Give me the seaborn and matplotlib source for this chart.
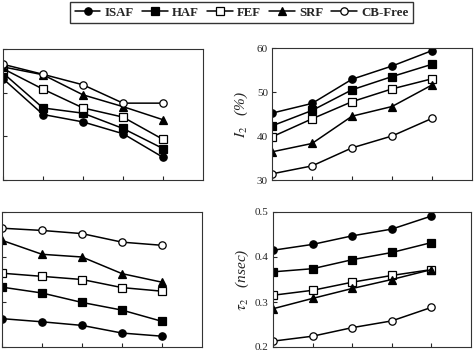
"""
Fluorescence decay components per algorithm (recreated panel crop).
"""
import matplotlib
matplotlib.use("Agg")
import matplotlib.pyplot as plt
import seaborn as sns

methods = ["ISAF", "HAF", "FEF", "SRF", "CB-Free"]
steps = [0, 1, 2, 3, 4]

# rows follow `methods`
i1_pct = [
    [53.2, 45.0, 43.3, 40.6, 35.2],
    [54.5, 46.5, 45.3, 41.8, 37.2],
    [55.5, 50.8, 46.5, 44.4, 39.3],
    [55.9, 54.1, 49.5, 46.8, 43.8],
    [56.5, 54.2, 51.8, 47.6, 47.6],
]
i2_pct = [
    [45.2, 47.4, 52.9, 55.9, 59.4],
    [42.3, 45.8, 50.5, 53.5, 56.3],
    [39.8, 43.9, 47.8, 50.7, 53.0],
    [36.4, 38.3, 44.5, 46.7, 51.6],
    [31.4, 33.2, 37.3, 40.0, 44.0],
]
tau1_ns = [
    [0.263, 0.256, 0.248, 0.231, 0.224],
    [0.333, 0.320, 0.299, 0.282, 0.257],
    [0.364, 0.357, 0.350, 0.332, 0.324],
    [0.437, 0.406, 0.400, 0.363, 0.344],
    [0.464, 0.459, 0.452, 0.433, 0.426],
]
tau2_ns = [
    [0.415, 0.428, 0.447, 0.462, 0.491],
    [0.367, 0.374, 0.394, 0.410, 0.432],
    [0.315, 0.326, 0.344, 0.359, 0.372],
    [0.285, 0.308, 0.330, 0.350, 0.372],
    [0.213, 0.224, 0.243, 0.258, 0.288],
]

pct_ticks = [30, 40, 50, 60]
ns_ticks = [0.2, 0.3, 0.4, 0.5]

sns.set_style("ticks")
plt.rcParams["font.family"] = ["Liberation Serif", "DejaVu Serif"]
plt.rcParams["mathtext.fontset"] = "stix"

markers = {
    "ISAF": ("o", "black"),
    "HAF": ("s", "black"),
    "FEF": ("s", "white"),
    "SRF": ("^", "black"),
    "CB-Free": ("o", "white"),
}

fig = plt.figure(figsize=(4.74, 3.51), dpi=100)
W, H = 474, 351


def px_axes(x0, y0, x1, y1):
    return fig.add_axes([x0 / W, 1 - y1 / H, (x1 - x0) / W, (y1 - y0) / H])


ax_tl = px_axes(3, 49, 203, 180)
ax_tr = px_axes(272, 48, 472, 180)
ax_bl = px_axes(2, 212, 202, 347)
ax_br = px_axes(273, 212, 471, 347)

# left panels: their tick labels and titles fall outside the cropped picture
panels = [
    (ax_tl, i1_pct, pct_ticks, (30, 60), None, None),
    (ax_tr, i2_pct, pct_ticks, (30, 60), "%d", r"$I_2$" + "   (%)"),
    (ax_bl, tau1_ns, ns_ticks, (0.2, 0.5), None, None),
    (ax_br, tau2_ns, ns_ticks, (0.2, 0.5), "%.1f", r"$\tau_2$" + "   (nsec)"),
]

for ax, rows, yt, ylim, fmt, ylabel in panels:
    for name, vals in zip(methods, rows):
        mk, face = markers[name]
        sns.lineplot(x=steps, y=vals, ax=ax, color="black", linewidth=1.1,
                     marker=mk, markersize=5.3, markerfacecolor=face,
                     markeredgecolor="black", markeredgewidth=0.9,
                     label=name, legend=False)
    ax.set_xlim(0, 5)
    ax.set_ylim(*ylim)
    ax.set_xticks([0, 1, 2, 3, 4])
    ax.set_xticklabels([])
    ax.set_yticks(yt)
    if fmt:
        ax.set_yticklabels([fmt % t for t in yt], fontsize=8)
    else:
        ax.set_yticklabels([])
    ax.tick_params(direction="in", length=3, width=0.8, pad=3)
    ax.set_xlabel("")
    for sp in ax.spines.values():
        sp.set_visible(True)
        sp.set_linewidth(0.8)
        sp.set_color("#333333")
    if ylabel:
        ax.set_ylabel(ylabel, fontsize=11, fontstyle="italic")
        ax.yaxis.set_label_coords(-0.11, 0.5)
    else:
        ax.set_ylabel("")

handles, labels = ax_tr.get_legend_handles_labels()
fig.legend(handles, labels, loc="upper center", bbox_to_anchor=(0.51, 1.012),
           ncol=5, frameon=True, fancybox=False, edgecolor="black",
           handlelength=2.0, handletextpad=0.35, columnspacing=0.6,
           borderpad=0.35, prop={"weight": "bold", "size": 9.3})

fig.savefig("out.png", dpi=100)
